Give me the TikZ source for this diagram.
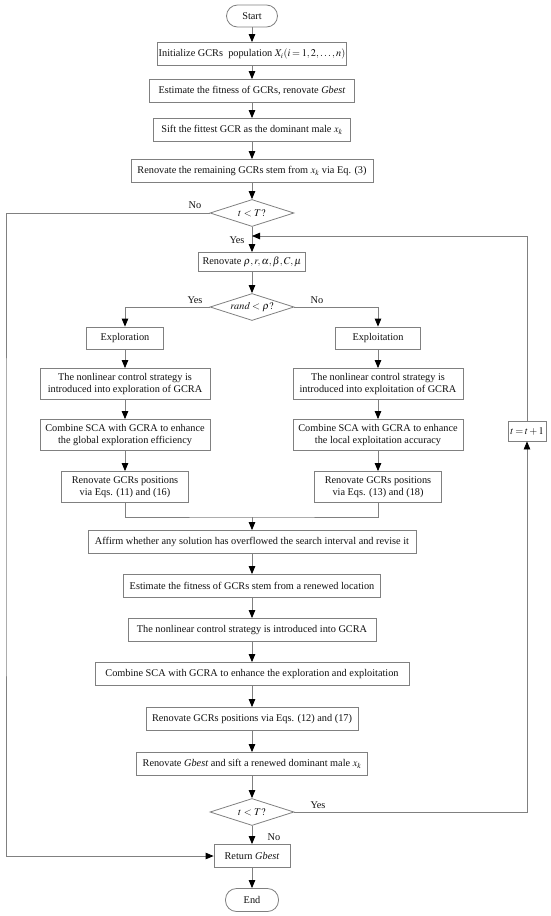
\documentclass[tikz,border=0pt]{standalone}
\usepackage{mathptmx}
\usepackage{fontspec}
\setmainfont{Liberation Serif}
\usetikzlibrary{arrows.meta,shapes.geometric}
\definecolor{Edge}{HTML}{808080}
\definecolor{Ink}{HTML}{111111}
\newcommand{\flowfont}{\fontsize{10.3}{12}\selectfont}
\newcommand{\tightmath}{\thickmuskip=3mu\medmuskip=2mu}
\tikzset{
  >={Triangle[length=8pt,width=6.5pt,color=black]},
  proc/.style={rectangle,draw=Edge,line width=.8pt,fill=white,inner sep=1pt,minimum height=23pt,align=center,text=Ink,font=\flowfont},
  term/.style={proc,rounded corners=11pt},
  dec/.style={diamond,draw=Edge,line width=.8pt,fill=white,aspect=3,inner sep=0pt,minimum width=84pt,minimum height=27pt,text=Ink,font=\flowfont},
  flow/.style={->,line width=.8pt,draw=Edge},
  link/.style={line width=.8pt,draw=Edge},
  lab/.style={font=\flowfont,text=Ink,inner sep=1pt}
}
\begin{document}
\begin{tikzpicture}[x=1pt,y=-1pt]
  \useasboundingbox (0,0) rectangle (550,916);
  % main column
  \node[term,minimum width=51pt,minimum height=22pt] (start) at (252,16) {Start};
  \node[proc,minimum width=189pt] (init) at (252,54) {Initialize GCRs~ population {\tightmath$X_i(i=1,2,\ldots,n)$}};
  \node[proc,minimum width=205pt] (fit) at (252,91) {Estimate the fitness of GCRs, renovate \textit{Gbest}};
  \node[proc,minimum width=197pt] (sift) at (252,130) {Sift the fittest GCR as the dominant male $x_k$};
  \node[proc,minimum width=242pt] (rest) at (252,171) {Renovate the remaining GCRs stem from $x_k$ via Eq. (3)};
  \node[dec] (loop) at (252,213) {$t<T?$};
  \node[proc,minimum width=107pt,minimum height=19pt] (par) at (252,262) {Renovate $\rho,r,\alpha,\beta,C,\mu$};
  \node[dec] (rnd) at (252,307) {$\mathit{rand}<\rho?$};

  % two branches
  \node[proc,minimum width=77pt,minimum height=22pt] (explore) at (125,338) {Exploration};
  \node[proc,minimum width=85pt,minimum height=22pt] (exploit) at (378,338) {Exploitation};
  \node[proc,minimum width=170pt,minimum height=31pt] (nlA) at (125,384) {The nonlinear control strategy is\\introduced into exploration of GCRA};
  \node[proc,minimum width=170pt,minimum height=31pt] (nlB) at (378,384) {The nonlinear control strategy is\\introduced into exploitation of GCRA};
  \node[proc,minimum width=170pt,minimum height=31pt] (scaA) at (125,435) {Combine SCA with GCRA to enhance\\the global exploration efficiency};
  \node[proc,minimum width=170pt,minimum height=31pt] (scaB) at (378,435) {Combine SCA with GCRA to enhance\\the local exploitation accuracy};
  \node[proc,minimum width=127pt,minimum height=31pt] (posA) at (125,487) {Renovate GCRs positions\\via Eqs. (11) and (16)};
  \node[proc,minimum width=127pt,minimum height=31pt] (posB) at (378,487) {Renovate GCRs positions\\via Eqs. (13) and (18)};
  \coordinate (mrg) at (252,517);

  \node[proc,minimum width=328pt] (chk) at (252,542) {Affirm whether any solution has overflowed the search interval and revise it};
  \node[proc,minimum width=257pt] (fit2) at (252,586) {Estimate the fitness of GCRs stem from a renewed location};
  \node[proc,minimum width=248pt] (nl) at (252,630) {The nonlinear control strategy is introduced into GCRA};
  \node[proc,minimum width=314pt] (sca) at (252,674) {Combine SCA with GCRA to enhance the exploration and exploitation};
  \node[proc,minimum width=212pt] (pos) at (252,719) {Renovate GCRs positions via Eqs. (12) and (17)};
  \node[proc,minimum width=231pt] (best) at (252,764) {Renovate \textit{Gbest} and sift a renewed dominant male $x_k$};
  \node[dec] (stop) at (252,812) {$t<T?$};
  \node[proc,minimum width=76pt] (ret) at (252,856) {Return \textit{Gbest}};
  \node[term,minimum width=53pt] (end) at (252,900) {End};

  % counter
  \node[proc,minimum width=38pt,minimum height=20pt] (inc) at (527,431) {\tightmath$t=t+1$};
  \coordinate (lft) at (6,500);
  \coordinate (fb) at (252,236);

  \draw[flow] (start)--(init);
  \draw[flow] (init)--(fit);
  \draw[flow] (fit)--(sift);
  \draw[flow] (sift)--(rest);
  \draw[flow] (rest)--(loop);
  \draw[flow] (loop)--(par);
  \draw[flow] (par)--(rnd);
  \draw[flow] (rnd.west)-|(explore.north);
  \draw[flow] (rnd.east)-|(exploit.north);
  \draw[flow] (explore)--(nlA);
  \draw[flow] (nlA)--(scaA);
  \draw[flow] (scaA)--(posA);
  \draw[flow] (exploit)--(nlB);
  \draw[flow] (nlB)--(scaB);
  \draw[flow] (scaB)--(posB);
  \draw[link] (posA.south)|-(mrg)-|(posB.south);
  \draw[flow] (mrg)--(chk);
  \draw[flow] (chk)--(fit2);
  \draw[flow] (fit2)--(nl);
  \draw[flow] (nl)--(sca);
  \draw[flow] (sca)--(pos);
  \draw[flow] (pos)--(best);
  \draw[flow] (best)--(stop);
  \draw[flow] (stop)--(ret);
  \draw[flow] (ret)--(end);
  \draw[flow] (loop.west)-|(lft)|-(ret.west);
  \draw[flow] (stop.east)-|(inc.south);
  \draw[flow] (inc.north)|-(fb);

  \node[lab] (no1) at (195,205) {No};
  \node[lab] (yes1) at (237,240) {Yes};
  \node[lab] (yes2) at (195,300) {Yes};
  \node[lab] (no2) at (317,300) {No};
  \node[lab] (yes3) at (318,805) {Yes};
  \node[lab] (no3) at (274,837) {No};
\end{tikzpicture}
\end{document}
